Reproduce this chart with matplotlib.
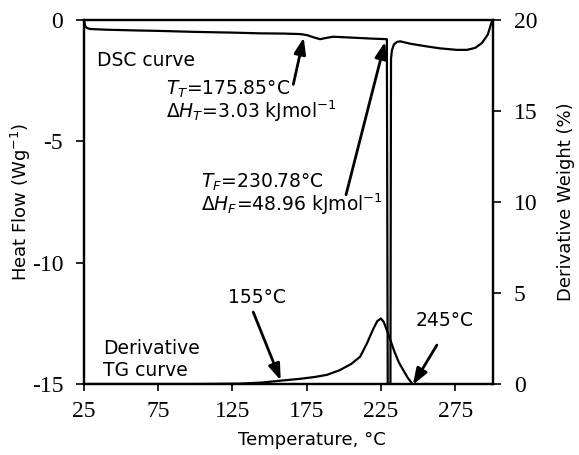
import matplotlib
matplotlib.use('Agg')
import matplotlib.pyplot as plt

plt.rcParams['axes.unicode_minus'] = False

# DSC curve (temperature in °C, heat flow in W/g)
dsc_temp = [25, 25.8, 27, 29, 40, 60, 76, 100, 125, 144, 160, 170.6, 175, 180, 184, 188,
            192.8, 200, 210, 220, 229.0, 229.6, 231.4, 231.8, 232.4, 233.8, 236, 238,
            245, 255, 265, 276, 283, 288.5, 293, 297, 300]
dsc_flow = [0, -0.25, -0.33, -0.37, -0.4, -0.43, -0.45, -0.49, -0.52, -0.55, -0.56, -0.58,
            -0.62, -0.72, -0.79, -0.74, -0.69, -0.71, -0.74, -0.77, -0.79, -15.3, -15.3,
            -1.6, -1.25, -1.0, -0.9, -0.88, -0.98, -1.08, -1.17, -1.23, -1.23, -1.15,
            -0.95, -0.6, 0]

# Derivative TG curve (temperature in °C, derivative weight in %)
dtg_temp = [25, 100, 130, 145, 157, 170, 180, 188.5, 197, 205, 211, 215.7, 219.7, 222.5,
            225, 227, 229, 231, 234, 237, 240, 243, 246.7, 250, 253.4, 256]
dtg_wt = [0, 0, 0.02, 0.08, 0.18, 0.28, 0.38, 0.5, 0.75, 1.1, 1.5, 2.25, 3.0, 3.45, 3.6,
          3.4, 2.95, 2.5, 1.8, 1.2, 0.77, 0.35, -0.05, -0.08, 0.0, 0.0]

x_ticks = [25, 75, 125, 175, 225, 275]
left_ticks = [0, -5, -10, -15]
right_ticks = [0, 5, 10, 15, 20]

tick_font = 'Liberation Serif'
text_font = 'DejaVu Sans'

plt.rcParams['mathtext.fontset'] = 'custom'
plt.rcParams['mathtext.rm'] = text_font
plt.rcParams['mathtext.it'] = text_font + ':italic'

fig = plt.figure(figsize=(5.79, 4.55), dpi=100)
ax = fig.add_axes([84 / 579, 1 - 384 / 455, 409 / 579, 364 / 455])
ax2 = ax.twinx()

ax.plot(dsc_temp, dsc_flow, color='black', lw=1.6)
ax2.plot(dtg_temp, dtg_wt, color='black', lw=1.6)

ax.set_xlim(25, 300.5)
ax.set_ylim(-15, 0)
ax2.set_ylim(0, 20)
ax.set_xticks(x_ticks)
ax.set_yticks(left_ticks)
ax2.set_yticks(right_ticks)

for a in (ax, ax2):
    for s in a.spines.values():
        s.set_linewidth(1.6)
    a.tick_params(direction='out', length=6, width=1.2, labelsize=17, pad=8)
    for lab in a.get_xticklabels() + a.get_yticklabels():
        lab.set_fontfamily(tick_font)
ax.tick_params(axis='x', length=5, pad=7)
ax.tick_params(axis='y', pad=9)
ax2.tick_params(axis='y', pad=9)

ax.set_xlabel('Temperature, °C', fontfamily=text_font, fontsize=13)
ax.xaxis.set_label_coords(0.557, -0.13)
ax.set_ylabel('Heat Flow (Wg$^{-1}$)', fontfamily=text_font, fontsize=13)
ax.yaxis.set_label_coords(-0.125, 0.5)
ax2.set_ylabel('Derivative Weight (%)', fontfamily=text_font, fontsize=13, labelpad=14)

tx = dict(fontfamily=text_font, fontsize=13.5, color='black')
ax.text(33.5, -1.65, 'DSC curve', va='center', ha='left', **tx)
ax.text(80, -2.84, '$\\mathit{T_T}$=175.85°C', va='center', ha='left', **tx)
ax.text(80, -3.76, '$\\mathit{\\Delta H_T}$=3.03 kJmol$^{-1}$', va='center', ha='left', **tx)
ax.text(104, -6.67, '$\\mathit{T_F}$=230.78°C', va='center', ha='left', **tx)
ax.text(104, -7.61, '$\\mathit{\\Delta H_F}$=48.96 kJmol$^{-1}$', va='center', ha='left', **tx)

arrow = dict(arrowstyle='-|>,head_length=0.7,head_width=0.25', color='black', lw=2,
             mutation_scale=14, shrinkA=0, shrinkB=0)
ax.annotate('', xy=(173, -0.72), xytext=(166, -2.65), arrowprops=arrow)
ax.annotate('', xy=(227.8, -0.9), xytext=(201.5, -7.2), arrowprops=arrow)

ax2.text(141.6, 4.75, '155°C', va='center', ha='center', **tx)
ax2.annotate('', xy=(157.5, 0.2), xytext=(139, 3.95), arrowprops=arrow)
ax2.text(268, 3.5, '245°C', va='center', ha='center', **tx)
ax2.annotate('', xy=(246.5, -0.05), xytext=(262.7, 2.14), arrowprops=arrow,
             annotation_clip=False)
ax2.text(38, 1.95, 'Derivative', va='center', ha='left', **tx)
ax2.text(38, 0.75, 'TG curve', va='center', ha='left', **tx)

fig.savefig('out.png', dpi=100)
